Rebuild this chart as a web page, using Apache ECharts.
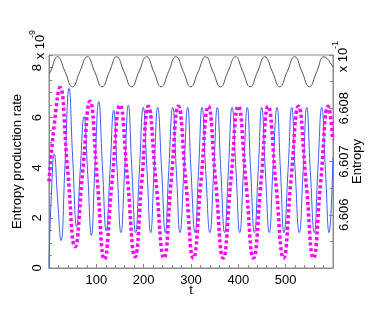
<!DOCTYPE html>
<html><head><meta charset="utf-8">
<script src="https://cdn.jsdelivr.net/npm/echarts@6/dist/echarts.min.js"></script>
<style>html,body{margin:0;padding:0;background:#fff}#c{width:382px;height:315px}</style>
</head><body><div id="c"></div>
<script>
// x tick labels
const xTicks = [100, 200, 300, 400, 500];
const leftTicks = [0, 2, 4, 6, 8];
const rightTicks = [6.606, 6.607, 6.608];

// blue thin line (t, value x1e-9)
const blueT = [0,4,11.3,18,25.4,34,42.3,50,58.5,66,74,82,89.5,97,105,113,121,129,136.6,144,152,160,167.6,175,183,191,199,207,214.8,222,229.7,238,245.7,253,261.4,269,276.8,285,293,300,308.5,316,323.3,331,340,348,355.6,363,371,379,386.7,395,403,411,419,426,434,442,449.4,457,465.5,473,481.7,489,496.5,505,512.8,520,528.8,537,544.5,552,560.5,568,576.2,584,591.6,600];
const blueV = [0,2.5,4.55,2.8,1.09,4.2,7.17,4.4,1.65,3.9,6.04,3.7,1.30,4.0,6.64,4.0,1.48,3.9,6.30,3.9,1.41,3.95,6.50,3.95,1.41,3.9,6.41,3.9,1.41,3.9,6.41,3.9,1.41,3.9,6.41,3.9,1.41,3.9,6.41,3.9,1.41,3.9,6.41,3.9,1.41,3.9,6.41,3.9,1.41,3.9,6.41,3.9,1.41,3.9,6.41,3.9,1.41,3.9,6.41,3.9,1.41,3.9,6.41,3.9,1.41,3.9,6.41,3.9,1.41,3.9,6.41,3.9,1.41,3.9,6.41,3.9,1.41,4.4];

// magenta dotted line
const magT = [0,11,23.2,39,55,71,86.6,102,117,133,150,166,181.7,196,209.8,226,243,258,273.2,289,305,321,336.6,352,368,384,400,416,432,448,463,479,495.5,511,527,543,558.6,574,590,600];
const magV = [3.45,5.7,7.2,4.0,0.85,3.8,6.65,3.5,0.35,3.4,6.5,3.5,0.45,3.45,6.45,3.45,0.4,3.45,6.45,3.45,0.4,3.45,6.45,3.45,0.4,3.45,6.45,3.45,0.4,3.45,6.45,3.45,0.4,3.45,6.45,3.45,0.4,3.45,6.45,5.1];

// black thin line near top
const blackT = [0,3,18,34,49.5,65,81,96.5,112,127.5,143,158.5,174.5,190,206,221.5,237,252.5,268,284,299.5,315,331,346.5,362.5,378,394,409.5,425,440.5,456,472,487.5,503,519,534.5,550,565.5,581,600];
const blackV = [7.75,7.83,8.43,7.83,7.23,7.83,8.43,7.83,7.23,7.83,8.43,7.83,7.23,7.83,8.43,7.83,7.23,7.83,8.43,7.83,7.23,7.83,8.43,7.83,7.23,7.83,8.43,7.83,7.23,7.83,8.43,7.83,7.23,7.83,8.43,7.83,7.23,7.83,8.43,8.0];

const zip = (a, b) => a.map((t, i) => [t, b[i]]);
const axisCol = '#8a8a8a';
const font = 'Liberation Sans, Arial, sans-serif';

const chart = echarts.init(document.getElementById('c'), null, {renderer: 'canvas'});
chart.setOption({
  animation: false,
  backgroundColor: '#fff',
  textStyle: {fontFamily: font},
  grid: {left: 49, right: 49, top: 55, bottom: 47, show: true, borderColor: axisCol, borderWidth: 1, backgroundColor: 'transparent'},
  xAxis: {
    type: 'value', min: 0, max: 600, interval: 100,
    axisLine: {show: true, lineStyle: {color: axisCol}},
    axisTick: {show: true, inside: true, length: 4, lineStyle: {color: axisCol}},
    minorTick: {show: true, splitNumber: 5, length: 3, lineStyle: {color: axisCol}},
    splitLine: {show: false},
    axisLabel: {fontSize: 13, color: '#000', margin: 6, fontFamily: font,
      showMinLabel: false, showMaxLabel: false,
      formatter: v => xTicks.includes(v) ? String(v) : ''}
  },
  yAxis: [{
    type: 'value', min: 0, max: 8.5, interval: 2, position: 'left',
    axisLine: {show: true, lineStyle: {color: axisCol}},
    axisTick: {show: true, inside: true, length: 4, lineStyle: {color: axisCol}},
    minorTick: {show: true, splitNumber: 4, length: 3, lineStyle: {color: axisCol}},
    splitLine: {show: false},
    axisLabel: {fontSize: 13, color: '#000', rotate: 90, margin: 5, fontFamily: font,
      showMaxLabel: false,
      formatter: v => leftTicks.includes(v) ? String(v) : ''}
  }, {
    type: 'value', min: 6.605, max: 6.609, interval: 0.001, position: 'right',
    axisLine: {show: true, lineStyle: {color: axisCol}},
    axisTick: {show: true, inside: true, length: 4, lineStyle: {color: axisCol}},
    minorTick: {show: true, splitNumber: 2, length: 3, lineStyle: {color: axisCol}},
    splitLine: {show: false},
    axisLabel: {fontSize: 13, color: '#000', rotate: 90, margin: 5, fontFamily: font,
      showMinLabel: false, showMaxLabel: false,
      formatter: v => { const s = v.toFixed(3); return rightTicks.map(r => r.toFixed(3)).includes(s) ? s : ''; }}
  }],
  graphic: [
    {type: 'text', x: 17, y: 161.5, rotation: Math.PI / 2, style: {text: 'Entropy production rate', fontSize: 13, fontFamily: font, fill: '#000', align: 'center', verticalAlign: 'middle'}},
    {type: 'text', x: 357, y: 161.5, rotation: Math.PI / 2, style: {text: 'Entropy', fontSize: 13, fontFamily: font, fill: '#000', align: 'center', verticalAlign: 'middle'}},
    {type: 'text', x: 191, y: 290, style: {text: 't', fontSize: 13, fontFamily: font, fill: '#000', align: 'center', verticalAlign: 'middle'}},
    {type: 'text', x: 40, y: 47, rotation: Math.PI / 2, style: {text: 'x 10', fontSize: 13, fontFamily: font, fill: '#000', align: 'center', verticalAlign: 'middle'}},
    {type: 'text', x: 33, y: 34, rotation: Math.PI / 2, style: {text: '-9', fontSize: 9, fontFamily: font, fill: '#000', align: 'center', verticalAlign: 'middle'}},
    {type: 'text', x: 343, y: 60, rotation: Math.PI / 2, style: {text: 'x 10', fontSize: 13, fontFamily: font, fill: '#000', align: 'center', verticalAlign: 'middle'}},
    {type: 'text', x: 336, y: 45, rotation: Math.PI / 2, style: {text: '-1', fontSize: 9, fontFamily: font, fill: '#000', align: 'center', verticalAlign: 'middle'}}
  ],
  series: [
    {type: 'line', name: 'black', data: zip(blackT, blackV), smooth: true, showSymbol: false, yAxisIndex: 0,
      lineStyle: {color: '#555', width: 1}},
    {type: 'line', name: 'blue', data: zip(blueT, blueV), smooth: true, showSymbol: false, yAxisIndex: 0,
      lineStyle: {color: '#3d5cf5', width: 1}},
    {type: 'line', name: 'magenta', data: zip(magT, magV), smooth: true, showSymbol: false, yAxisIndex: 0,
      lineStyle: {color: '#ff00ff', width: 3.5, type: [3.2, 2.6], cap: 'butt'}}
  ]
});
</script></body></html>
